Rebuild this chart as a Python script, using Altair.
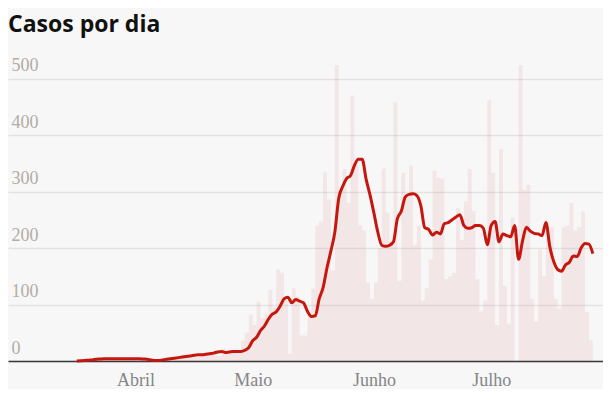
import altair as alt
import pandas as pd

# Day index counted from 1 March (day 0 = 1 Mar)
first_day = 16

# Daily new cases (bars), days 16..147
cases = [
    1, 0, 2, 1, 3, 5, 2, 4, 6, 3,
    2, 5, 4, 6, 3, 2, 7, 3, 0, 1,
    0, 2, 4, 6, 3, 9, 5, 12, 7, 10,
    14, 8, 11, 16, 13, 18, 9, 22, 12, 15,
    20, 14, 36, 50, 82, 64, 105, 76, 84, 126,
    95, 162, 157, 107, 13, 129, 114, 45, 45, 82,
    128, 240, 247, 334, 286, 160, 524, 300, 340, 280,
    470, 345, 240, 231, 139, 110, 139, 200, 341, 263,
    210, 458, 142, 333, 290, 346, 205, 240, 107, 129,
    180, 337, 324, 323, 145, 150, 156, 271, 214, 283,
    340, 266, 145, 88, 107, 462, 333, 64, 375, 133,
    66, 254, 0, 524, 303, 312, 110, 70, 197, 150,
    237, 237, 110, 93, 237, 240, 280, 231, 237, 265,
    87, 37,
]

# 7-day average (line), days 16..148
average = [
    0, 0.5, 1, 1.5, 2, 3, 3.5, 4, 4, 4,
    4, 4, 4, 4, 4, 4, 4, 3.5, 3, 2,
    1, 1, 2, 3, 4, 5, 6, 7, 8, 9,
    10, 11, 11, 12, 13, 14, 16, 17, 15, 16,
    17, 17, 17, 19, 24, 36, 42, 54, 62, 74,
    83, 87, 97, 110, 113, 103, 109, 106, 103, 88,
    79, 80, 110, 130, 165, 195, 228, 288, 309, 323,
    328, 346, 357, 357, 322, 294, 262, 228, 205, 203,
    205, 211, 252, 265, 290, 295, 296, 293, 275, 236,
    233, 223, 228, 225, 243, 245, 250, 255, 259, 240,
    235, 236, 240, 240, 235, 206, 240, 247, 211, 225,
    222, 220, 240, 180, 212, 237, 230, 226, 225, 222,
    245, 202, 176, 162, 159, 170, 175, 186, 185, 200,
    208, 207, 190,
]

month_ticks = [31, 61, 92, 122]
month_labels = ["Abril", "Maio", "Junho", "Julho"]
y_ticks = [0, 100, 200, 300, 400, 500]

bars_df = pd.DataFrame({
    "day": [first_day + i for i in range(len(cases))],
    "casos": cases,
})
bars_df["day_end"] = bars_df["day"] + 1

line_df = pd.DataFrame({
    "day": [first_day + i for i in range(len(average))],
    "media": average,
})

label_expr = "''"
for v, name in reversed(list(zip(month_ticks, month_labels))):
    label_expr = f"datum.value == {v} ? '{name}' : ({label_expr})"

x_scale = alt.Scale(domain=[-1.6, 150.6], nice=False, zero=False)
y_scale = alt.Scale(domain=[0, 540], nice=False)

x_axis = alt.Axis(
    values=month_ticks,
    labelExpr=label_expr,
    title=None,
    grid=False,
    ticks=False,
    domain=True,
    domainColor="#3a3a3a",
    domainWidth=1.5,
    labelFont="Liberation Serif",
    labelFontSize=18,
    labelColor="#858585",
    labelBaseline="alphabetic",
    labelPadding=24,
    labelFlush=False,
    labelOverlap=False,
)

y_axis = alt.Axis(
    values=y_ticks,
    title=None,
    domain=False,
    ticks=False,
    tickSize=0,
    grid=True,
    gridColor="#e3e3e3",
    gridWidth=1.5,
    labelFont="Liberation Serif",
    labelFontSize=18,
    labelColor="#b2aca6",
    labelAlign="left",
    labelBaseline="alphabetic",
    labelPadding=-3,
    labelOffset=-8,
    labelFlush=False,
    labelOverlap=False,
)

bars = alt.Chart(bars_df).mark_rect(color="#cc1a1a", opacity=0.075).encode(
    x=alt.X("day:Q", scale=x_scale, axis=x_axis),
    x2="day_end:Q",
    y=alt.Y("casos:Q", scale=y_scale, axis=y_axis),
    y2=alt.datum(0),
)

line = alt.Chart(line_df).mark_line(
    color="#c6170f", strokeWidth=3, interpolate="monotone"
).encode(
    x=alt.X("day:Q", scale=x_scale),
    y=alt.Y("media:Q", scale=y_scale),
)

chart = alt.layer(bars, line).properties(
    width=595,
    height=305,
    background="#f7f7f7",
    padding={"top": 6, "left": 0, "right": 0, "bottom": 0},
    title=alt.TitleParams(
        text="Casos por dia",
        anchor="start",
        font="Open Sans",
        fontSize=23,
        fontWeight="bold",
        color="#111111",
        offset=19,
    ),
).configure_view(strokeWidth=0)

chart.save("out.html", embed_options={"renderer": "svg", "actions": False})
